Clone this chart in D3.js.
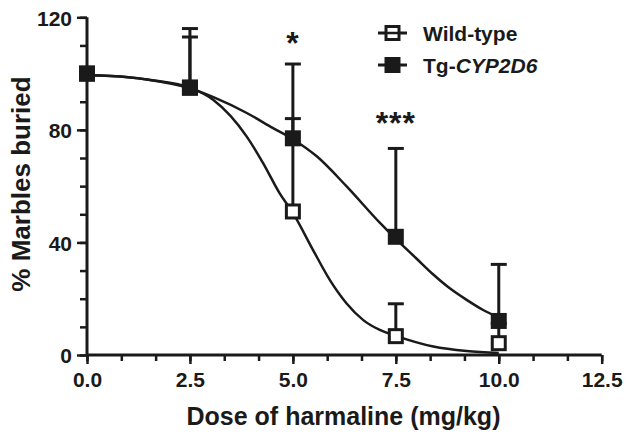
<!DOCTYPE html>
<html><head><meta charset="utf-8">
<script src="https://cdn.jsdelivr.net/npm/d3@7"></script>
<style>
html,body{margin:0;padding:0;background:#fff;}
svg text{font-family:"Liberation Sans",Arial,Helvetica,sans-serif;font-weight:bold;fill:#1a1a1a;}
</style></head>
<body><svg id="c" width="629" height="443"></svg>
<script>
// ---- data ----
const doses = [0, 2.5, 5.0, 7.5, 10.0];
const wildTypeMean = [100, 95, 51, 6.7, 4.2];
const wildTypeSEM  = [0, 18, 33, 11.5, 7];
const tgMean = [100, 95, 77, 42, 12.1];
const tgSEM  = [0, 21, 26.4, 31.4, 20.1];
// fitted curves (dose, % buried)
const wildTypeCurveX = [0, 1.0, 1.5, 2.5, 3.07, 3.88, 4.28, 4.68, 5.0, 5.49, 5.9, 6.3, 6.71, 7.11, 7.52, 8.41, 9.22, 10.0];
const wildTypeCurveY = [99.4, 98.7, 97.8, 95, 90.6, 77.6, 68.1, 57.4, 50.5, 37.3, 26.6, 18.4, 12.4, 8.9, 6.7, 3.0, 1.4, 0.7];
const tgCurveX = [0, 1.0, 1.5, 2.5, 3.07, 3.88, 4.52, 5.01, 5.58, 6.3, 7.11, 7.48, 8.0, 8.41, 8.81, 9.22, 9.62, 10.0];
const tgCurveY = [99.4, 98.7, 97.8, 94.8, 91.6, 86.0, 80.6, 76.6, 70.6, 60.0, 47.0, 41.5, 34.3, 28.6, 23.7, 19.6, 16.0, 13.3];
const xTicks = [0, 2.5, 5.0, 7.5, 10.0, 12.5];
const yTicks = [0, 40, 80, 120];
const seriesNames = ["Wild-type", "Tg-"];
const sigStars = [{dose: 5.0, y: 107, label: "*"}, {dose: 7.5, y: 78.7, label: "***"}];

// ---- layout ----
const svg = d3.select("#c");
const x = d3.scaleLinear().domain([0, 12.5]).range([87, 601.7]);
const y = d3.scaleLinear().domain([0, 120]).range([355, 17.3]);
const ink = "#1a1a1a";

const xAxis = d3.axisBottom(x).tickValues(xTicks).tickFormat(d3.format(".1f")).tickSize(9).tickPadding(8);
const xMinor = d3.axisBottom(x).tickValues(d3.range(0, 16).map(i => i * 12.5 / 15)).tickFormat("").tickSize(6);
const yAxis = d3.axisLeft(y).tickValues(yTicks).tickSize(10).tickPadding(5);
const yMinor = d3.axisLeft(y).tickValues(d3.range(0, 13).map(i => i * 10)).tickFormat("").tickSize(7);

function styleAxis(g){
  g.select(".domain").attr("stroke", ink).attr("stroke-width", 3);
  g.selectAll(".tick line").attr("stroke", ink).attr("stroke-width", 2.5);
  g.selectAll("text").attr("font-size", 21).attr("fill", ink);
}
svg.append("g").attr("transform", "translate(0,355)").call(xMinor).call(styleAxis).select(".domain").remove();
svg.append("g").attr("transform", "translate(87,0)").call(yMinor).call(styleAxis).select(".domain").remove();
const gx = svg.append("g").attr("transform", "translate(0,355)").call(xAxis).call(styleAxis);
gx.select(".domain").attr("d", `M${x(0)},0H${x(12.5)}`);
const gy = svg.append("g").attr("transform", "translate(87,0)").call(yAxis).call(styleAxis);
gy.select(".domain").attr("d", `M0,${y(0)}V${y(120)}`);
gy.selectAll("text").attr("dy", "0.38em");

// axis titles
svg.append("text").attr("x", 343.5).attr("y", 425)
  .attr("text-anchor", "middle").attr("font-size", 25).text("Dose of harmaline (mg/kg)");
svg.append("text").attr("transform", `translate(30,184) rotate(-90)`)
  .attr("text-anchor", "middle").attr("font-size", 26).text("% Marbles buried");

// curves
const line = d3.line().x(d => x(d[0])).y(d => y(d[1])).curve(d3.curveMonotoneX);
const wtCurve = wildTypeCurveX.map((d, i) => [d, wildTypeCurveY[i]]);
const tgCurve = tgCurveX.map((d, i) => [d, tgCurveY[i]]);
svg.append("path").attr("d", line(wtCurve)).attr("fill", "none").attr("stroke", ink).attr("stroke-width", 2.5);
svg.append("path").attr("d", line(tgCurve)).attr("fill", "none").attr("stroke", ink).attr("stroke-width", 2.5);

// error bars
function errBars(means, sems){
  const g = svg.append("g");
  doses.forEach((d, i) => {
    if (sems[i] <= 0) return;
    const top = means[i] + sems[i];
    g.append("line").attr("x1", x(d)).attr("x2", x(d)).attr("y1", y(means[i])).attr("y2", y(top))
      .attr("stroke", ink).attr("stroke-width", 3);
    g.append("line").attr("x1", x(d) - 8).attr("x2", x(d) + 8).attr("y1", y(top)).attr("y2", y(top))
      .attr("stroke", ink).attr("stroke-width", 3);
  });
}
errBars(wildTypeMean, wildTypeSEM);
errBars(tgMean, tgSEM);

// markers
const s = 13;
svg.append("g").selectAll("rect").data(doses).join("rect")
  .attr("x", d => x(d) - s / 2).attr("y", (d, i) => y(wildTypeMean[i]) - s / 2)
  .attr("width", s).attr("height", s).attr("fill", "#fff").attr("stroke", ink).attr("stroke-width", 3);
svg.append("g").selectAll("rect").data(doses).join("rect")
  .attr("x", d => x(d) - 8).attr("y", (d, i) => y(tgMean[i]) - 8)
  .attr("width", 16).attr("height", 16).attr("fill", ink);

// significance stars
svg.append("g").selectAll("text").data(sigStars).join("text")
  .attr("x", d => x(d.dose)).attr("y", d => y(d.y)).attr("text-anchor", "middle")
  .attr("font-size", 32).attr("letter-spacing", 1).text(d => d.label);

// legend
const lg = svg.append("g");
[0, 1].forEach(i => {
  const cy = 33 + i * 32;
  lg.append("line").attr("x1", 378).attr("x2", 407).attr("y1", cy).attr("y2", cy).attr("stroke", ink).attr("stroke-width", 3);
  if (i === 0) {
    lg.append("rect").attr("x", 392.5 - 6.5).attr("y", cy - 6.5).attr("width", 13).attr("height", 13)
      .attr("fill", "#fff").attr("stroke", ink).attr("stroke-width", 3);
    lg.append("line").attr("x1", 386).attr("x2", 399).attr("y1", cy).attr("y2", cy).attr("stroke", ink).attr("stroke-width", 2.5);
  } else {
    lg.append("rect").attr("x", 392.5 - 8).attr("y", cy - 8).attr("width", 16).attr("height", 16).attr("fill", ink);
  }
  const t = lg.append("text").attr("x", 423).attr("y", cy + 7.5).attr("font-size", 21);
  if (i === 0) t.text(seriesNames[0]);
  else { t.append("tspan").text(seriesNames[1]); t.append("tspan").attr("font-style", "italic").text("CYP2D6"); }
});
</script></body></html>
